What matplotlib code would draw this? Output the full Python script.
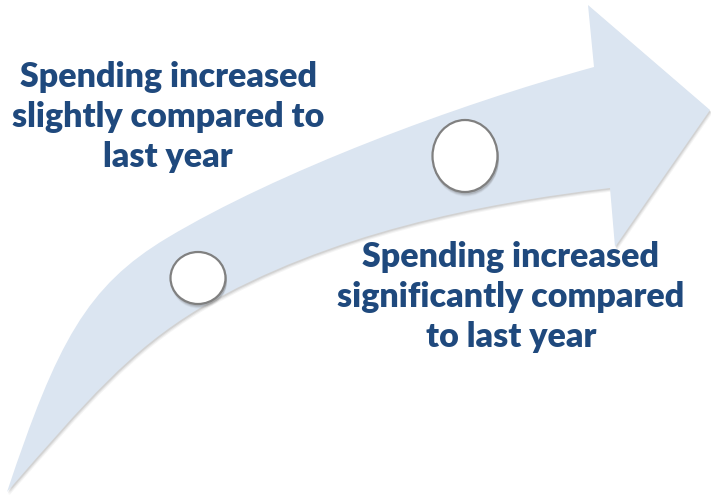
import matplotlib
matplotlib.use("Agg")
import matplotlib.pyplot as plt
from matplotlib.path import Path
from matplotlib.patches import PathPatch, Ellipse
import numpy as np

# Text shown beside the two milestones on the growth arrow
upper_label = ["Spending increased", "slightly compared to", "last year"]
lower_label = ["Spending increased", "significantly compared", "to last year"]

ARROW_FILL = "#dbe5f1"
TEXT_COLOR = "#1f497d"
W, H = 711, 495

fig = plt.figure(figsize=(W / 100, H / 100), dpi=100)
ax = fig.add_axes([0, 0, 1, 1])
ax.set_xlim(0, W)
ax.set_ylim(H, 0)
ax.axis("off")

# Curved arrow outline (pixel space, y downward), built from cubic Bezier pieces
verts = [
    (7, 492),
    # upper edge: tail up to the head
    (57, 342), (87, 286), (167, 238),
    (277, 172), (455, 105), (594, 67),
    # arrow head
    (588, 5),
    (710, 110),
    (615, 247),
    (610, 188),
    # lower edge: head back to the tail
    (480, 203.6), (330, 232.6), (200, 308),
    (130, 350), (87, 400), (7, 492),
    (7, 492),
]
codes = [Path.MOVETO,
         Path.CURVE4, Path.CURVE4, Path.CURVE4,
         Path.CURVE4, Path.CURVE4, Path.CURVE4,
         Path.LINETO, Path.LINETO, Path.LINETO, Path.LINETO,
         Path.CURVE4, Path.CURVE4, Path.CURVE4,
         Path.CURVE4, Path.CURVE4, Path.CURVE4,
         Path.CLOSEPOLY]
arrow = Path(verts, codes)

# soft drop shadow under the arrow
for k, a in zip([3.5, 2.5, 1.5], [0.08, 0.12, 0.18]):
    shadow = Path(np.asarray(verts) + np.array([k * 0.6, k]), codes)
    ax.add_patch(PathPatch(shadow, facecolor="#7f7f7f", edgecolor="none", alpha=a, zorder=1))
ax.add_patch(PathPatch(arrow, facecolor=ARROW_FILL, edgecolor="none", zorder=2))

# milestone markers
for (cx, cy), (w, h) in [((198, 278), (55, 52)), ((465, 156), (65, 72))]:
    for k, a in zip([4, 3, 2], [0.08, 0.12, 0.18]):
        ax.add_patch(Ellipse((cx + 1, cy + k), w + 1, h + 1, facecolor="#555555",
                             edgecolor="none", alpha=a, zorder=3))
    ax.add_patch(Ellipse((cx, cy), w, h, facecolor="white", edgecolor="#808080",
                         linewidth=1.6, zorder=4))

font = dict(family=["Lato", "DejaVu Sans"], weight="heavy", fontsize=24.5,
            color=TEXT_COLOR, ha="center", va="baseline", zorder=5)
for line, y in zip(upper_label, [87, 127, 167]):
    ax.text(168, y, line, **font)
for line, y in zip(lower_label, [267, 307, 347]):
    ax.text(511, y, line, **font)

fig.savefig("out.png", dpi=100, facecolor="white")
